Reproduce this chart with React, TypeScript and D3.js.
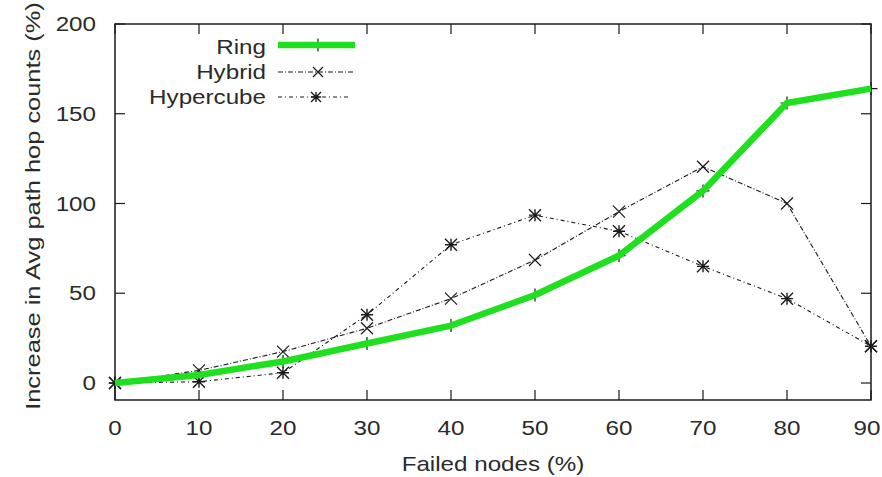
import React from "react";
import * as d3 from "d3";

const failed = [0, 10, 20, 30, 40, 50, 60, 70, 80, 90];
const ring = [0, 4.5, 12, 22, 32, 49, 71, 107, 156, 164];
const hybrid = [0, 7, 17.5, 30.5, 47, 68.5, 95.5, 120.5, 100, 20.5];
const hypercube = [0, 0.7, 5.7, 38, 77, 93.5, 84.5, 65, 47, 20.5];
const yTicks = [0, 50, 100, 150, 200];

const W = 882;
const H = 477;
const left = 115;
const right = 871;
const top = 24;
const bottom = 400;

const FONT = "'Liberation Sans', Arial, sans-serif";
const INK = "#1a1a1a";
const TEXT = "#2a2a2a";
const GREEN = "#1fe01f";
const HYB_DASH = "5,2,1,2";
const HC_DASH = "4,3,1,3";

// wide gnuplot-ish text
function T({ x, y, anchor = "middle", rotate = 0, size = 20.5, stretch = 1.18, children }: any) {
  return (
    <g transform={`translate(${x},${y}) rotate(${rotate}) scale(${stretch},1)`}>
      <text textAnchor={anchor} fontFamily={FONT} fontSize={size} fill={TEXT}>
        {children}
      </text>
    </g>
  );
}

function Cross({ x, y, r = 6 }: any) {
  return (
    <path d={`M${x - r},${y - r}L${x + r},${y + r}M${x - r},${y + r}L${x + r},${y - r}`} stroke={INK} strokeWidth={1.2} />
  );
}

function Star({ x, y, r = 6 }: any) {
  return (
    <path
      d={`M${x - r},${y - r}L${x + r},${y + r}M${x - r},${y + r}L${x + r},${y - r}M${x - r},${y}L${x + r},${y}M${x},${y - r}L${x},${y + r}`}
      stroke={INK}
      strokeWidth={1.4}
    />
  );
}

function Plus({ x, y, r = 6 }: any) {
  return <path d={`M${x - r},${y}L${x + r},${y}M${x},${y - r}L${x},${y + r}`} stroke={INK} strokeWidth={1.2} />;
}

export default function App() {
  const x = d3.scaleLinear().domain([0, 90]).range([left, right]);
  const y = d3.scaleLinear().domain([0, 200]).range([383, top]);

  const line = (vals: number[]) =>
    d3
      .line<number>()
      .x((_, i) => x(failed[i]))
      .y((d) => y(d))(vals) as string;

  const tick = 10;

  return (
    <svg width={W} height={H} style={{ position: "absolute", left: 0, top: 0, background: "#fff" }}>
      <rect x={0} y={0} width={W} height={H} fill="#fff" />

      {/* ticks, inward and mirrored */}
      {yTicks.map((t) => (
        <g key={"y" + t}>
          <line x1={left} x2={left + tick} y1={y(t)} y2={y(t)} stroke={INK} strokeWidth={1.2} />
          <line x1={right} x2={right - tick} y1={y(t)} y2={y(t)} stroke={INK} strokeWidth={1.2} />
          <T x={96} y={y(t) + 7} anchor="end">
            {t}
          </T>
        </g>
      ))}
      {failed.map((f) => (
        <g key={"x" + f}>
          <line x1={x(f)} x2={x(f)} y1={bottom} y2={bottom - tick} stroke={INK} strokeWidth={1.2} />
          <line x1={x(f)} x2={x(f)} y1={top} y2={top + tick} stroke={INK} strokeWidth={1.2} />
          <T x={Math.min(x(f), W - 15)} y={435}>
            {f}
          </T>
        </g>
      ))}

      <rect x={left} y={top} width={right - left} height={bottom - top} fill="none" stroke={INK} strokeWidth={1.5} />

      <T x={493} y={471}>
        Failed nodes (%)
      </T>
      <T x={40} y={206} rotate={-90} stretch={1.24}>
        Increase in Avg path hop counts (%)
      </T>

      {/* series */}
      <path d={line(hypercube)} fill="none" stroke={INK} strokeWidth={1.1} strokeDasharray={HC_DASH} />
      {hypercube.map((v, i) => (
        <Star key={"hc" + i} x={x(failed[i])} y={y(v)} />
      ))}

      <path d={line(hybrid)} fill="none" stroke={INK} strokeWidth={1.1} strokeDasharray={HYB_DASH} />
      {hybrid.map((v, i) => (
        <Cross key={"hy" + i} x={x(failed[i])} y={y(v)} />
      ))}

      {ring.map((v, i) => (
        <Plus key={"r" + i} x={x(failed[i])} y={y(v)} r={6.5} />
      ))}
      <path d={line(ring)} fill="none" stroke={INK} strokeWidth={1} />
      <path d={line(ring)} fill="none" stroke={GREEN} strokeWidth={6.5} strokeLinejoin="round" />

      {/* legend */}
      <T x={266} y={54} anchor="end">
        Ring
      </T>
      <Plus x={318} y={45} r={6.5} />
      <line x1={278} x2={355} y1={45} y2={45} stroke={GREEN} strokeWidth={6.5} />

      <T x={266} y={79} anchor="end">
        Hybrid
      </T>
      <line x1={278} x2={355} y1={72} y2={72} stroke={INK} strokeWidth={1.1} strokeDasharray={HYB_DASH} />
      <Cross x={318} y={72} r={5} />

      <T x={266} y={104} anchor="end">
        Hypercube
      </T>
      <line x1={278} x2={350} y1={97} y2={97} stroke={INK} strokeWidth={1.1} strokeDasharray={HC_DASH} />
      <Star x={316} y={97} r={5} />
    </svg>
  );
}
